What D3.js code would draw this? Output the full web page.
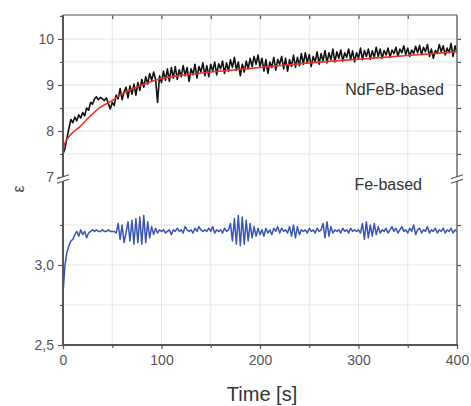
<!DOCTYPE html>
<html><head><meta charset="utf-8">
<script src="https://cdn.jsdelivr.net/npm/d3@7"></script>
<style>
html,body{margin:0;padding:0;background:#fff;}
svg{display:block;font-family:"Liberation Sans",Arial,sans-serif;}
</style></head>
<body><svg id="c" width="471" height="406"></svg>
<script>
// ---- data ----
const timeStep = 2; // seconds between samples
const ndfebValues = [
7.50,7.62,7.85,8.05,8.25,8.18,8.30,8.22,8.35,8.28,8.40,8.33,8.50,8.45,8.62,8.58,8.70,8.74,8.68,8.73,8.70,8.66,8.72,8.60,8.48,
8.62,8.55,8.78,8.70,8.92,8.68,8.85,8.95,8.72,8.98,8.80,9.02,8.78,9.05,8.88,9.12,8.95,9.18,9.02,9.25,9.10,9.28,9.12,8.62,9.20,
9.05,9.30,9.10,9.35,9.08,9.38,9.15,9.40,9.12,9.33,9.18,9.42,9.20,9.38,9.08,9.35,9.22,9.45,9.15,9.40,9.28,9.48,9.20,9.42,9.18,
9.45,9.30,9.50,9.22,9.46,9.35,9.52,9.25,9.48,9.30,9.55,9.38,9.60,9.32,9.50,9.20,9.45,9.28,9.52,9.35,9.58,9.40,9.62,9.45,9.65,
9.40,9.58,9.30,9.55,9.25,9.50,9.38,9.60,9.32,9.55,9.45,9.62,9.35,9.58,9.30,9.55,9.40,9.65,9.38,9.60,9.42,9.68,9.45,9.70,9.48,
9.66,9.40,9.62,9.50,9.72,9.45,9.68,9.52,9.75,9.48,9.70,9.55,9.78,9.50,9.72,9.58,9.76,9.52,9.70,9.60,9.78,9.55,9.74,9.50,9.70,
9.58,9.80,9.55,9.75,9.62,9.78,9.56,9.74,9.60,9.82,9.62,9.78,9.58,9.75,9.65,9.80,9.60,9.76,9.68,9.82,9.62,9.78,9.70,9.85,9.66,
9.80,9.62,9.76,9.68,9.84,9.70,9.86,9.66,9.82,9.72,9.88,9.62,9.78,9.58,9.75,9.68,9.88,9.72,9.85,9.65,9.80,9.70,9.90,9.62,9.85,9.70
];
const fitTimes  = [0,5,10,17,25,38,50,58,78,98,125,150,175,200,250,300,350,400];
const fitValues = [7.65,7.85,7.97,8.09,8.27,8.52,8.66,8.78,8.98,9.13,9.22,9.28,9.33,9.38,9.48,9.56,9.64,9.72];
const feValues = [
2.82,3.00,3.08,3.12,3.15,3.16,3.19,3.21,3.18,3.22,3.19,3.21,3.17,3.20,3.21,3.22,3.21,3.22,3.21,3.21,3.22,3.21,3.21,3.22,3.21,
3.21,3.21,3.20,3.26,3.16,3.25,3.14,3.20,3.27,3.15,3.28,3.13,3.29,3.14,3.30,3.13,3.31,3.14,3.27,3.17,3.24,3.19,3.23,3.20,3.22,
3.21,3.22,3.20,3.21,3.22,3.19,3.22,3.21,3.23,3.21,3.22,3.20,3.24,3.22,3.21,3.22,3.20,3.23,3.21,3.24,3.22,3.21,3.22,3.21,3.23,
3.21,3.24,3.20,3.22,3.21,3.22,3.20,3.23,3.21,3.22,3.26,3.15,3.29,3.13,3.31,3.12,3.30,3.13,3.28,3.15,3.26,3.17,3.24,3.18,3.23,
3.19,3.22,3.18,3.23,3.20,3.22,3.19,3.23,3.21,3.24,3.20,3.23,3.21,3.22,3.20,3.24,3.18,3.25,3.17,3.24,3.19,3.22,3.21,3.22,3.20,
3.23,3.21,3.22,3.20,3.23,3.21,3.22,3.26,3.17,3.27,3.18,3.24,3.20,3.22,3.21,3.22,3.20,3.23,3.21,3.22,3.20,3.23,3.21,3.22,3.21,
3.22,3.20,3.26,3.16,3.27,3.17,3.25,3.18,3.26,3.19,3.24,3.20,3.22,3.21,3.23,3.20,3.22,3.24,3.21,3.23,3.20,3.22,3.24,3.21,3.22,
3.20,3.23,3.21,3.25,3.19,3.22,3.23,3.20,3.22,3.21,3.24,3.20,3.22,3.21,3.23,3.20,3.22,3.21,3.23,3.20,3.22,3.21,3.23,3.20,3.22,3.21
];
const xTicksMajor = [0,100,200,300,400];
const xTicksMinor = [50,150,250,350];
const yUpperMajor = [7,8,9,10];
const yUpperMinor = [7.5,8.5,9.5,10.5];
const yLowerMajor = [2.5,3.0];
const yLowerMinor = [2.75,3.25];
const labels = {x:"Time [s]", y:"ε", ndfeb:"NdFeB-based", fe:"Fe-based"};

// ---- layout ----
const L=63, R=457, T=15, B=345, BRK_U=177, BRK_L=181;
const svg=d3.select("#c");
const x=d3.scaleLinear().domain([0,400]).range([L,R]);
const yU=d3.scaleLinear().domain([7,10.52]).range([BRK_U,T]);
const yL=d3.scaleLinear().domain([2.5,2.5+(B-BRK_L)/160]).range([B,BRK_L]);
const comma=d3.formatLocale({decimal:",",thousands:".",grouping:[3],currency:["",""]}).format(".1f");

// grid
const grid=svg.append("g").attr("stroke","#e6e6e6").attr("stroke-width",1);
[...xTicksMajor.slice(1,-1),...xTicksMinor].forEach(v=>grid.append("line").attr("x1",x(v)).attr("x2",x(v)).attr("y1",T).attr("y2",B));
[...yUpperMajor.slice(1),...yUpperMinor.slice(0,3)].forEach(v=>grid.append("line").attr("x1",L).attr("x2",R).attr("y1",yU(v)).attr("y2",yU(v)));
[...yLowerMajor.slice(1),...yLowerMinor].forEach(v=>grid.append("line").attr("x1",L).attr("x2",R).attr("y1",yL(v)).attr("y2",yL(v)));

// clips
const defs=svg.append("defs");
defs.append("clipPath").attr("id","cu").append("rect").attr("x",L).attr("y",T).attr("width",R-L).attr("height",BRK_U-T);
defs.append("clipPath").attr("id","cl").append("rect").attr("x",L).attr("y",BRK_L).attr("width",R-L).attr("height",B-BRK_L);

const ndData=ndfebValues.map((v,i)=>[i*timeStep,v]);
const feData=feValues.map((v,i)=>[i*timeStep,v]);
const fitData=fitTimes.map((t,i)=>[t,fitValues[i]]);

svg.append("path").attr("clip-path","url(#cu)").datum(ndData)
 .attr("fill","none").attr("stroke","#111").attr("stroke-width",1.6).attr("stroke-linejoin","round")
 .attr("d",d3.line().x(d=>x(d[0])).y(d=>yU(d[1])));
svg.append("path").attr("clip-path","url(#cu)").datum(fitData)
 .attr("fill","none").attr("stroke","#e8322c").attr("stroke-width",1.6)
 .attr("d",d3.line().curve(d3.curveMonotoneX).x(d=>x(d[0])).y(d=>yU(d[1])));
svg.append("path").attr("clip-path","url(#cl)").datum(feData)
 .attr("fill","none").attr("stroke","#3b55b0").attr("stroke-width",1.5).attr("stroke-linejoin","round")
 .attr("d",d3.line().x(d=>x(d[0])).y(d=>yL(d[1])));

// axes
function styleAxis(g){g.select(".domain").remove();g.selectAll("line").attr("stroke","#555").attr("stroke-width",1.2);
 g.selectAll("text").attr("fill","#555").style("font-size","14px");}
svg.append("g").attr("transform",`translate(${L},0)`).call(d3.axisLeft(yU).tickValues(yUpperMajor).tickSize(5).tickPadding(4).tickFormat(d3.format("d"))).call(styleAxis);
svg.append("g").attr("transform",`translate(${L},0)`).call(d3.axisLeft(yU).tickValues(yUpperMinor).tickSize(3).tickFormat("")).call(styleAxis);
svg.append("g").attr("transform",`translate(${L},0)`).call(d3.axisLeft(yL).tickValues(yLowerMajor).tickSize(5).tickPadding(4).tickFormat(comma)).call(styleAxis);
svg.append("g").attr("transform",`translate(${L},0)`).call(d3.axisLeft(yL).tickValues(yLowerMinor).tickSize(3).tickFormat("")).call(styleAxis);
svg.append("g").attr("transform",`translate(${R},0)`).call(d3.axisRight(yU).tickValues([...yUpperMajor.slice(1),...yUpperMinor.slice(0,3)]).tickSize(4).tickFormat("")).call(styleAxis);
svg.append("g").attr("transform",`translate(${R},0)`).call(d3.axisRight(yL).tickValues([...yLowerMajor.slice(1),...yLowerMinor]).tickSize(4).tickFormat("")).call(styleAxis);
svg.append("g").attr("transform",`translate(0,${B})`).call(d3.axisBottom(x).tickValues(xTicksMajor).tickSize(4).tickPadding(6).tickFormat(d3.format("d"))).call(styleAxis);
svg.append("g").attr("transform",`translate(0,${B})`).call(d3.axisBottom(x).tickValues(xTicksMinor).tickSize(3).tickFormat("")).call(styleAxis);
svg.append("g").attr("transform",`translate(0,${T})`).call(d3.axisBottom(x).tickValues([...xTicksMinor,...xTicksMajor.slice(1,-1)]).tickSize(4).tickFormat("")).call(styleAxis);

// frame
const frame=svg.append("g").attr("fill","none");
frame.append("line").attr("x1",L).attr("x2",R).attr("y1",T).attr("y2",T).attr("stroke","#8a8a8a").attr("stroke-width",1.5);
frame.append("line").attr("x1",R).attr("x2",R).attr("y1",T).attr("y2",B).attr("stroke","#6a6a6a").attr("stroke-width",1.5);
frame.append("line").attr("x1",L).attr("x2",L).attr("y1",T).attr("y2",B).attr("stroke","#555").attr("stroke-width",2);
frame.append("line").attr("x1",L-1).attr("x2",R+1).attr("y1",B).attr("y2",B).attr("stroke","#555").attr("stroke-width",2);

// axis breaks
const yb=(BRK_U+BRK_L)/2;
[L,R].forEach(ax=>{
 svg.append("rect").attr("x",ax-3).attr("y",yb-2).attr("width",6).attr("height",4).attr("fill","#fff");
 [-2.2,2.2].forEach(o=>svg.append("line").attr("x1",ax-6).attr("x2",ax+6).attr("y1",yb+o+2).attr("y2",yb+o-2)
   .attr("stroke","#555").attr("stroke-width",1.2));
});

// labels
svg.append("text").attr("x",(L+R)/2+2).attr("y",401).attr("text-anchor","middle").attr("fill","#333")
 .style("font-size","20px").text(labels.x);
svg.append("text").attr("transform","translate(24,189) rotate(-90)").attr("text-anchor","middle").attr("fill","#444")
 .style("font-size","16px").text(labels.y);
svg.append("text").attr("x",444).attr("y",95).attr("text-anchor","end").attr("fill","#333").style("font-size","16px").text(labels.ndfeb);
svg.append("text").attr("x",422).attr("y",190).attr("text-anchor","end").attr("fill","#333").style("font-size","16px").text(labels.fe);
</script></body></html>
